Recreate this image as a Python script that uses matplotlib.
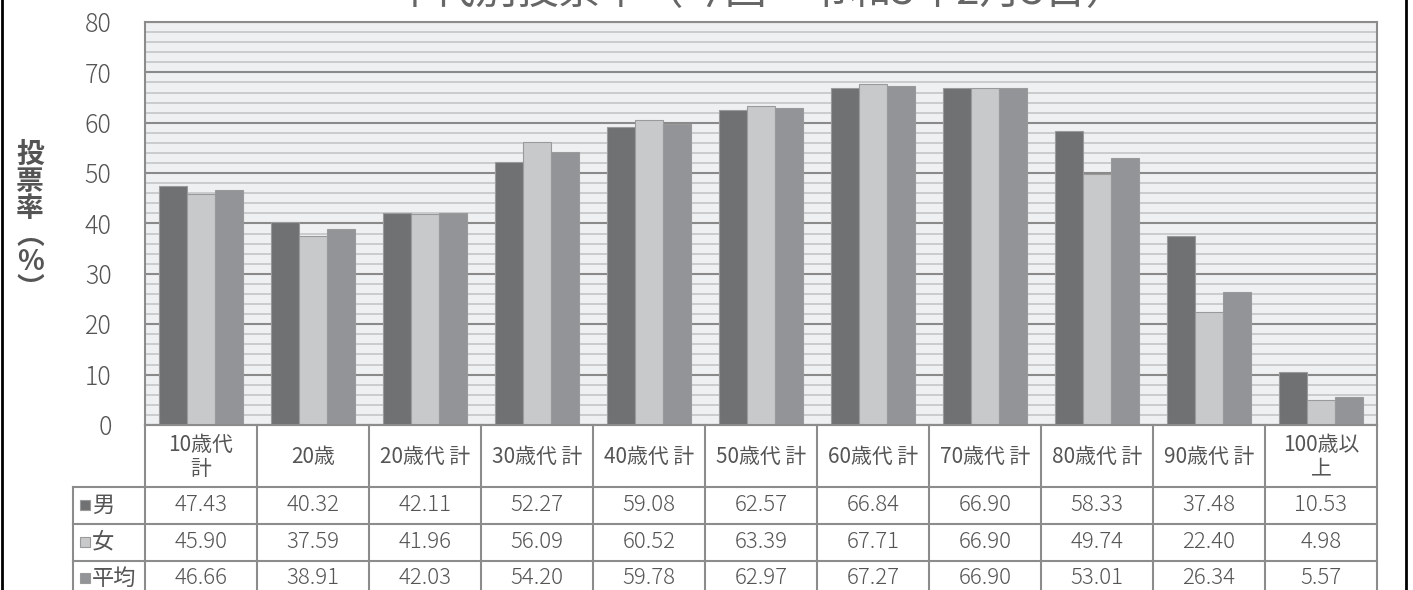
import matplotlib
matplotlib.use("Agg")
import matplotlib.pyplot as plt
from matplotlib.patches import Rectangle
from matplotlib.lines import Line2D
import numpy as np

plt.rcParams['font.family'] = ['Noto Sans CJK JP', 'DejaVu Sans']

categories = ["10歳代\n計", "20歳", "20歳代 計", "30歳代 計", "40歳代 計", "50歳代 計",
              "60歳代 計", "70歳代 計", "80歳代 計", "90歳代 計", "100歳以\n上"]
male = [47.43, 40.32, 42.11, 52.27, 59.08, 62.57, 66.84, 66.90, 58.33, 37.48, 10.53]
female = [45.90, 37.59, 41.96, 56.09, 60.52, 63.39, 67.71, 66.90, 49.74, 22.40, 4.98]
average = [46.66, 38.91, 42.03, 54.20, 59.78, 62.97, 67.27, 66.90, 53.01, 26.34, 5.57]
series_names = ["男", "女", "平均"]
title = "年代別投票率（今回　令和3年2月3日）"

W, H = 1413, 590
colors = ["#707173", "#c8c9cb", "#939497"]
txt_color = "#555555"
line_color = "#8c8c8c"

fig = plt.figure(figsize=(W / 100, H / 100), dpi=100)


def fx(px):
    return px / W


def fy(py):
    return 1 - py / H


# plot area in pixels
left, right, top, bottom = 145, 1377, 22, 425
ax = fig.add_axes([fx(left), fy(bottom), fx(right - left), (bottom - top) / H])
ax.set_facecolor("#eff0f2")

n = len(categories)
x = np.arange(n) + 0.5
bw = 0.25
for i, vals in enumerate([male, female, average]):
    ax.bar(x + (i - 1) * bw, vals, bw, color=colors[i], edgecolor="#9a9a9a",
           linewidth=0.8, zorder=3, label=series_names[i])

ax.set_xlim(0, n)
ax.set_ylim(0, 80)
ax.set_yticks(range(0, 81, 10))
ax.set_yticks(range(0, 81, 2), minor=True)
ax.grid(which="minor", axis="y", color="#c4c5c7", linewidth=1.2, zorder=1)
ax.grid(which="major", axis="y", color="#8a8a8a", linewidth=1.5, zorder=2)
ax.set_xticks([])
ax.tick_params(axis="y", which="both", length=0, pad=24, labelsize=18, labelcolor=txt_color)
for lab in ax.get_yticklabels():
    lab.set_fontweight("light")
for s in ["top", "right", "left", "bottom"]:
    ax.spines[s].set_color(line_color)
    ax.spines[s].set_linewidth(1.5)

# y label, stacked vertically
ylab = "投\n票\n率\n︵\n%\n︶"
fig.text(fx(30), fy(222), ylab, ha="center", va="center", fontsize=20, fontweight="bold",
         color=txt_color, linespacing=0.95)

# title (cut at top of the image as in the original)
fig.text(fx(760), fy(13), title, ha="center", va="bottom", fontsize=30, color="#666666")

# data table below the chart
col_w = (right - left) / n
row_lines = [425, 487, 524, 561, 598]
lab_left = 73


def hline(y, x0, x1):
    fig.add_artist(Line2D([fx(x0), fx(x1)], [fy(y), fy(y)], color=line_color, linewidth=1.5))


def vline(x0, y0, y1):
    fig.add_artist(Line2D([fx(x0), fx(x0)], [fy(y0), fy(y1)], color=line_color, linewidth=1.5))


hline(row_lines[0], left, right)
for y in row_lines[1:]:
    hline(y, lab_left, right)
vline(lab_left, row_lines[1], row_lines[-1])
for j in range(n + 1):
    vline(left + j * col_w, row_lines[0], row_lines[-1])

for j, cat in enumerate(categories):
    cx = left + (j + 0.5) * col_w
    fig.text(fx(cx), fy((row_lines[0] + row_lines[1]) / 2 + 1), cat, ha="center", va="center",
             fontsize=15, color=txt_color, linespacing=1.1)

row_centers = [505, 542, 578]
for i, vals in enumerate([male, female, average]):
    cy = row_centers[i]
    fig.add_artist(Rectangle((fx(80), fy(cy + 5)), fx(10), 10 / H, facecolor=colors[i],
                             edgecolor="#9a9a9a", linewidth=0.8, transform=fig.transFigure))
    fig.text(fx(92), fy(cy), series_names[i], ha="left", va="center", fontsize=16, color=txt_color)
    for j, v in enumerate(vals):
        cx = left + (j + 0.5) * col_w
        fig.text(fx(cx), fy(cy), f"{v:.2f}", ha="center", va="center", fontsize=16,
                 color=txt_color, fontweight="light")

# outer frame
fig.add_artist(Line2D([fx(2), fx(2)], [0, 1], color="black", linewidth=2))
fig.add_artist(Line2D([fx(1406), fx(1406)], [0, 1], color="black", linewidth=2))

fig.savefig("out.png", dpi=100)
